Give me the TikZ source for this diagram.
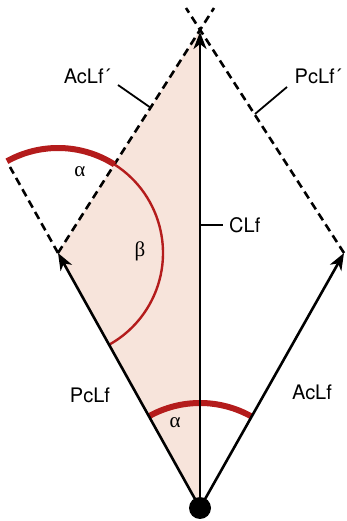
\documentclass[tikz,border=0pt]{standalone}
\usepackage{fontspec}
\setmainfont{TeX Gyre Heros}
\newfontfamily\grk{Liberation Serif}
\usetikzlibrary{arrows.meta,calc}
\definecolor{arcred}{RGB}{180,28,28}
\definecolor{pinkfill}{RGB}{247,228,219}
\begin{document}
\begin{tikzpicture}[x=1pt,y=1pt,
  vec/.style={line width=2.6pt,-{Stealth[length=17pt,width=13pt,inset=5pt]}},
  dsh/.style={line width=2.6pt,dash pattern=on 8pt off 5pt},
  lead/.style={line width=1.8pt},
  thickarc/.style={arcred,line width=6pt},
  thinarc/.style={arcred,line width=2.4pt},
  lbl/.style={font=\fontsize{20}{24}\selectfont,inner sep=0pt},
  glbl/.style={font=\fontsize{21}{24}\selectfont\grk,inner sep=0pt}]
\useasboundingbox (0,0) rectangle (346,521);
\coordinate (O) at (200,13);
\coordinate (L) at (58,268);
\coordinate (R) at (344,268);
\coordinate (T) at (200,491);
\coordinate (Ttip) at (200,489);
\coordinate (TL) at (214,513);
\coordinate (TR) at (186,513);
\coordinate (E) at (10,354);
% shaded triangle
\fill[pinkfill] (O) -- (L) -- (T) -- cycle;
% dashed lines
\draw[dsh] (L) -- (TL);
\draw[dsh] (R) -- (TR);
\draw[dsh] (L) -- (E);
% arcs
\draw[thickarc] ([shift={(119.1:105)}]L) arc[start angle=119.1,end angle=57.5,radius=105];
\draw[thinarc] ([shift={(57.5:105)}]L) arc[start angle=57.5,end angle=-60.9,radius=105];
\draw[thickarc] ([shift={(119.1:105)}]O) arc[start angle=119.1,end angle=60.5,radius=105];
% vectors
\draw[vec] (O) -- (L);
\draw[vec] (O) -- (R);
\draw[vec] (O) -- (Ttip);
\fill (O) circle[radius=11];
% labels
\node[lbl] (acp) at (87,445) {AcLf´};
\coordinate (acpA) at (118,436);
\coordinate (acpB) at (151,413);
\draw[lead] (acpA) -- (acpB);
\node[lbl] (pcp) at (318,445) {PcLf´};
\coordinate (pcpA) at (287,434);
\coordinate (pcpB) at (255,407);
\draw[lead] (pcpA) -- (pcpB);
\node[lbl,anchor=west] (clf) at (229,296) {CLf};
\coordinate (clfA) at (200,296);
\coordinate (clfB) at (223,296);
\draw[lead] (clfA) -- (clfB);
\node[glbl] (a1) at (80,349) {α};
\node[glbl] (b1) at (140,270) {β};
\node[lbl] (pc) at (90,126) {PcLf};
\node[lbl] (ac) at (312,129) {AcLf};
\node[glbl] (a2) at (175,98) {α};
\end{tikzpicture}
\end{document}
